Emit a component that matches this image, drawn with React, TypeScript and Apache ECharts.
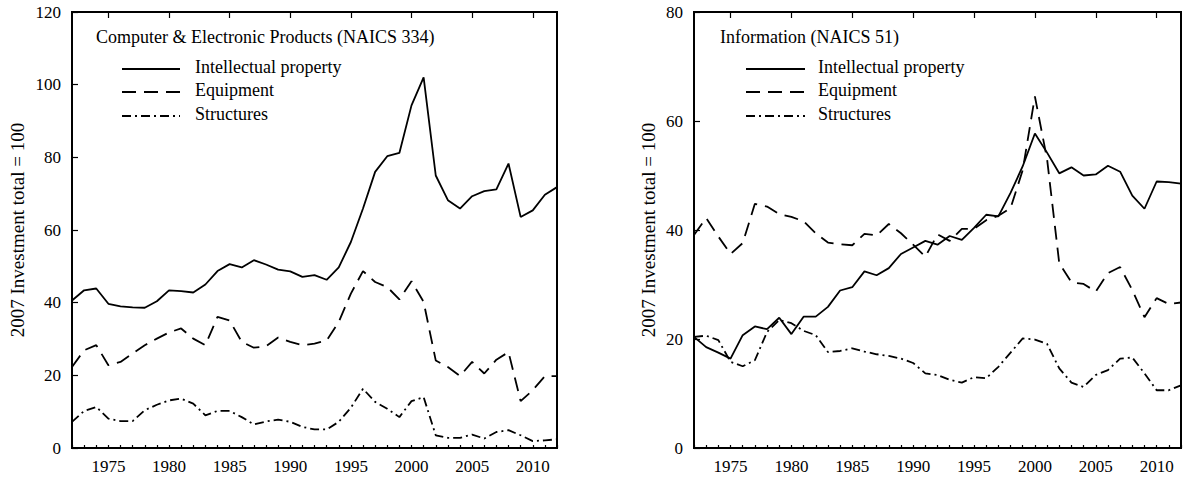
import React, { useEffect, useRef } from "react";
import * as echarts from "echarts";

const years: number[] = [];
for (let y = 1972; y <= 2012; y++) years.push(y);

// Computer & Electronic Products (NAICS 334)
const compIP = [40.6, 43.4, 43.9, 39.7, 39.0, 38.7, 38.6, 40.4, 43.4, 43.2, 42.8, 45.0, 48.7, 50.6, 49.7, 51.7, 50.5, 49.1, 48.6, 47.1, 47.6, 46.3, 49.7, 56.7, 65.9, 76.0, 80.3, 81.2, 94.3, 102.0, 75.0, 68.2, 65.9, 69.3, 70.7, 71.2, 78.3, 63.6, 65.4, 69.7, 71.8];
const compEquip = [22.3, 26.9, 28.3, 22.8, 23.7, 26.0, 28.3, 30.1, 31.8, 32.9, 30.1, 28.3, 36.1, 35.1, 29.2, 27.6, 28.0, 30.4, 29.2, 28.3, 28.7, 29.6, 34.7, 42.5, 48.7, 45.7, 44.3, 40.9, 45.9, 40.2, 24.1, 22.3, 19.8, 23.7, 20.5, 24.3, 26.4, 12.9, 15.9, 19.8, 19.8];
const compStruct = [7.2, 10.2, 11.3, 8.1, 7.4, 7.4, 10.4, 11.9, 13.1, 13.6, 12.2, 9.0, 10.2, 10.2, 8.5, 6.5, 7.3, 7.8, 7.2, 5.8, 5.1, 5.1, 7.2, 11.1, 16.3, 12.7, 10.8, 8.5, 12.9, 14.0, 3.5, 2.8, 2.8, 3.7, 2.6, 4.4, 4.9, 3.5, 1.9, 2.1, 2.4];

// Information (NAICS 51)
const infoIP = [20.4, 18.5, 17.5, 16.4, 20.7, 22.3, 21.8, 23.9, 20.9, 24.1, 24.1, 25.9, 28.9, 29.5, 32.4, 31.7, 33.0, 35.6, 36.8, 38.0, 37.3, 38.9, 38.2, 40.4, 42.8, 42.5, 46.8, 51.7, 57.7, 54.2, 50.4, 51.5, 50.0, 50.2, 51.8, 50.7, 46.3, 43.9, 48.9, 48.8, 48.5];
const infoEquip = [39.1, 42.2, 38.8, 35.6, 37.6, 44.8, 44.3, 42.9, 42.4, 41.6, 39.4, 37.7, 37.4, 37.2, 39.3, 39.0, 41.1, 39.4, 37.3, 35.1, 39.2, 38.0, 40.2, 40.2, 41.8, 42.6, 44.0, 51.0, 64.5, 53.0, 33.9, 30.4, 30.1, 28.7, 32.1, 33.2, 29.0, 24.0, 27.5, 26.4, 26.7];
const infoStruct = [20.4, 20.6, 19.8, 15.8, 15.0, 16.1, 21.3, 23.5, 22.9, 21.5, 20.7, 17.6, 17.8, 18.3, 17.7, 17.2, 16.9, 16.4, 15.6, 13.7, 13.4, 12.5, 12.0, 13.0, 12.8, 14.9, 17.5, 20.1, 19.9, 19.1, 14.6, 12.0, 11.2, 13.4, 14.3, 16.4, 16.6, 13.7, 10.6, 10.6, 11.5];

const panelTitles = ["Computer & Electronic Products (NAICS 334)", "Information (NAICS 51)"];
const seriesNames = ["Intellectual property", "Equipment", "Structures"];
const yMaxes = [120, 80];
const yAxisName = "2007 Investment total = 100";

const FONT = "Liberation Serif";
const dashes: (number[] | "solid")[] = ["solid", [14, 8], [9, 4, 2, 4]];

export default function App() {
  const ref = useRef<HTMLDivElement>(null);
  useEffect(() => {
    if (!ref.current) return;
    const chart = echarts.init(ref.current, undefined, { renderer: "svg" });
    const grids = [
      { left: 72, top: 12, width: 485, height: 436 },
      { left: 694, top: 12, width: 488, height: 436 },
    ];
    const panelData = [
      [compIP, compEquip, compStruct],
      [infoIP, infoEquip, infoStruct],
    ];
    const xAxis: any[] = [];
    const yAxis: any[] = [];
    const series: any[] = [];
    grids.forEach((g, gi) => {
      xAxis.push({
        type: "value",
        gridIndex: gi,
        min: 1972,
        max: 2012,
        interval: 1,
        axisLine: { lineStyle: { color: "#000", width: 2 } },
        axisTick: { inside: true, length: 3, lineStyle: { color: "#000", width: 1.2 } },
        splitLine: { show: false },
        axisLabel: {
          color: "#000",
          fontFamily: FONT,
          fontSize: 17,
          margin: 10,
          formatter: (v: number) => (v % 5 === 0 ? String(v) : ""),
        },
      });
      xAxis.push({
        type: "category",
        gridIndex: gi,
        data: years.map(String),
        boundaryGap: false,
        axisLine: { show: false },
        axisTick: {
          inside: true,
          length: 6,
          interval: (i: number) => years[i] % 5 === 0,
          lineStyle: { color: "#000", width: 1.2 },
        },
        axisLabel: { show: false },
        splitLine: { show: false },
      });
      yAxis.push({
        type: "value",
        gridIndex: gi,
        min: 0,
        max: yMaxes[gi],
        interval: 20,
        name: yAxisName,
        nameLocation: "middle",
        nameGap: gi === 0 ? 45 : 36,
        nameTextStyle: { color: "#000", fontFamily: FONT, fontSize: 19 },
        axisLine: { show: true, lineStyle: { color: "#000", width: 2 } },
        axisTick: { show: true, inside: true, length: 6, lineStyle: { color: "#000", width: 1.2 } },
        splitLine: { show: false },
        axisLabel: { color: "#000", fontFamily: FONT, fontSize: 17, margin: 11 },
      });
      panelData[gi].forEach((arr, si) => {
        series.push({
          name: seriesNames[si] + gi,
          type: "line",
          xAxisIndex: gi * 2,
          yAxisIndex: gi,
          symbol: "none",
          data: years.map((y, i) => [y, arr[i]]),
          lineStyle: { color: "#000", width: 1.8, type: dashes[si] },
        });
      });
    });

    const graphic: any[] = [];
    const legendX = [
      { title: 96, lineStart: 122, lineEnd: 180, text: 195 },
      { title: 720, lineStart: 746, lineEnd: 805, text: 818 },
    ];
    const legendY = [69, 92, 116];
    legendX.forEach((L, gi) => {
      graphic.push({
        type: "text",
        left: L.title,
        top: 28,
        style: { text: panelTitles[gi], fontFamily: FONT, fontSize: 18, fill: "#000" },
      });
      seriesNames.forEach((name, si) => {
        graphic.push({
          type: "line",
          shape: { x1: L.lineStart, y1: legendY[si], x2: L.lineEnd, y2: legendY[si] },
          style: {
            stroke: "#000",
            lineWidth: 1.8,
            lineDash: dashes[si] === "solid" ? null : dashes[si],
          },
        });
        graphic.push({
          type: "text",
          left: L.text,
          top: legendY[si] - 11,
          style: { text: name, fontFamily: FONT, fontSize: 18, fill: "#000" },
        });
      });
    });

    chart.setOption({
      animation: false,
      backgroundColor: "#fff",
      grid: grids.map((g) => ({ ...g, show: true, borderColor: "#000", borderWidth: 2, backgroundColor: "transparent" })),
      xAxis,
      yAxis,
      series,
      graphic,
    });
    return () => chart.dispose();
  }, []);
  return <div ref={ref} style={{ position: "fixed", left: 0, top: 0, width: 1184, height: 479 }} />;
}
